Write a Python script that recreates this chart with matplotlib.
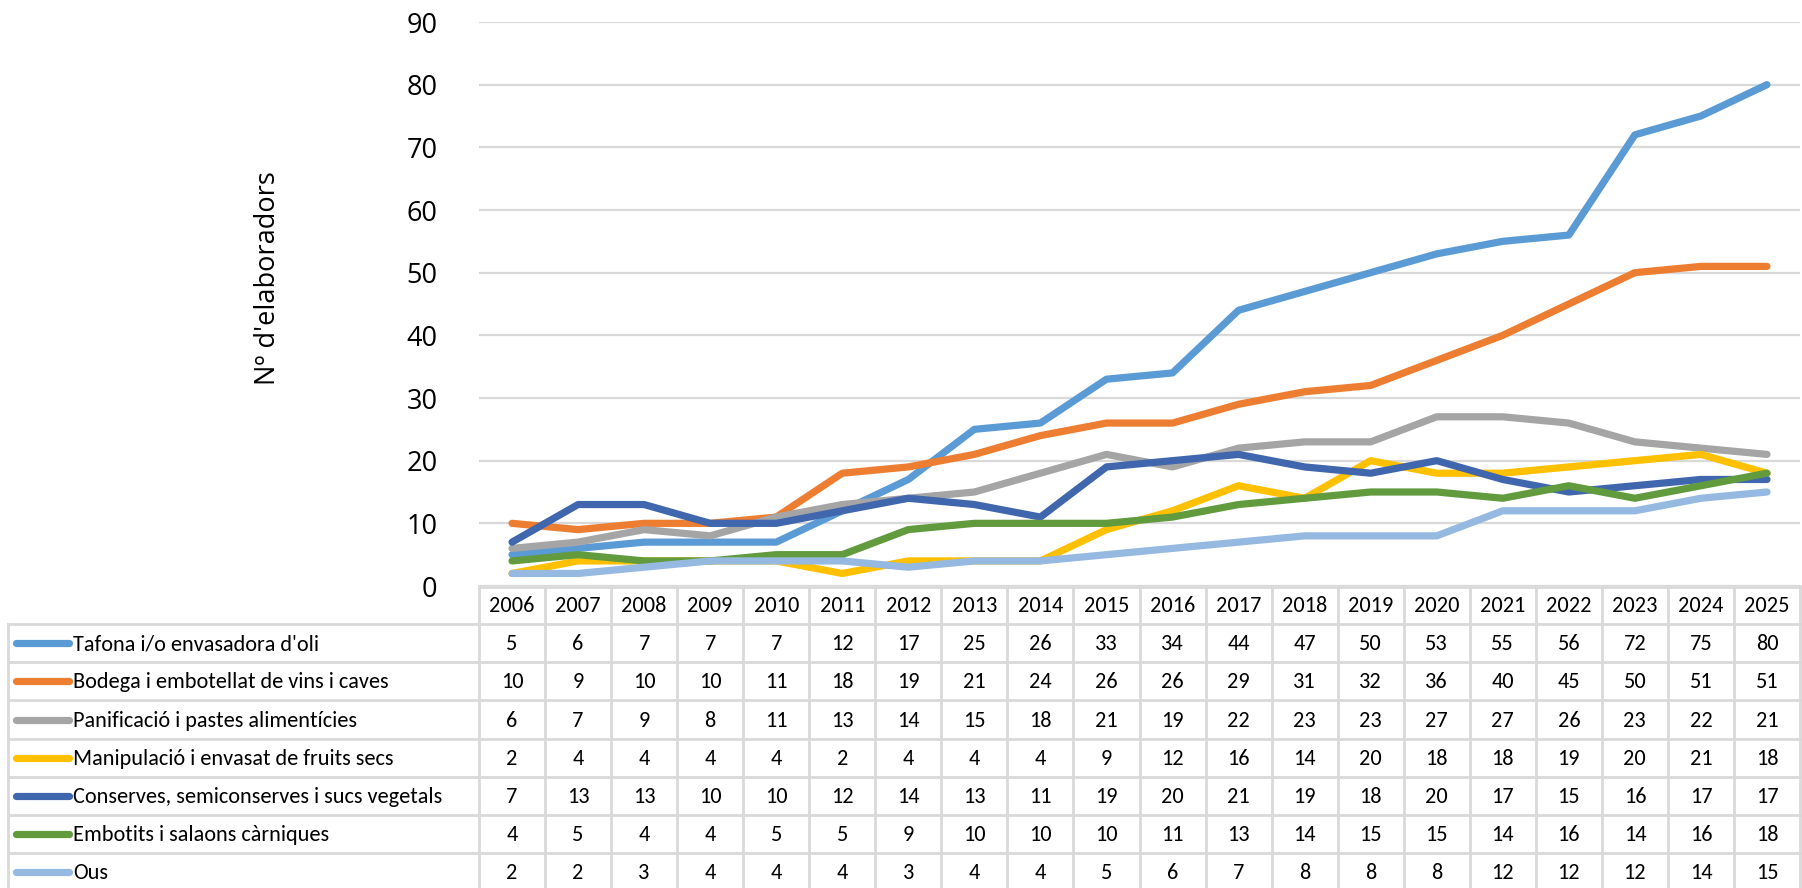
import matplotlib
matplotlib.use("Agg")
import matplotlib.pyplot as plt
import numpy as np

# productors per sector, 2006-2025
years = list(range(2006, 2026))
sectors = ["Tafona i/o envasadora d'oli",
           "Bodega i embotellat de vins i caves",
           "Panificació i pastes alimentícies",
           "Manipulació i envasat de fruits secs",
           "Conserves, semiconserves i sucs vegetals",
           "Embotits i salaons càrniques",
           "Ous"]

tafona = [5, 6, 7, 7, 7, 12, 17, 25, 26, 33, 34, 44, 47, 50, 53, 55, 56, 72, 75, 80]
bodega = [10, 9, 10, 10, 11, 18, 19, 21, 24, 26, 26, 29, 31, 32, 36, 40, 45, 50, 51, 51]
panificacio = [6, 7, 9, 8, 11, 13, 14, 15, 18, 21, 19, 22, 23, 23, 27, 27, 26, 23, 22, 21]
fruits_secs = [2, 4, 4, 4, 4, 2, 4, 4, 4, 9, 12, 16, 14, 20, 18, 18, 19, 20, 21, 18]
conserves = [7, 13, 13, 10, 10, 12, 14, 13, 11, 19, 20, 21, 19, 18, 20, 17, 15, 16, 17, 17]
embotits = [4, 5, 4, 4, 5, 5, 9, 10, 10, 10, 11, 13, 14, 15, 15, 14, 16, 14, 16, 18]
ous = [2, 2, 3, 4, 4, 4, 3, 4, 4, 5, 6, 7, 8, 8, 8, 12, 12, 12, 14, 15]

series = [tafona, bodega, panificacio, fruits_secs, conserves, embotits, ous]
colors = ["#5B9BD5", "#ED7D31", "#A5A5A5", "#FFC000", "#4066AE", "#619B3E", "#95B9E1"]

W, H = 1802, 888
GRID = "#D9D9D9"
TABLE_FONT = ["Carlito", "Liberation Sans Narrow", "DejaVu Sans"]
AXIS_FONT = ["Open Sans", "DejaVu Sans"]

fig = plt.figure(figsize=(W / 100, H / 100), dpi=100)

# layout in pixels
x0, x1 = 479, 1800          # data columns of the table / plot area
y_top, y_zero = 22, 586     # 90 and 0 gridlines
tab_left = 8
row_h = 38.2
header_bottom = 624

ax = fig.add_axes([x0 / W, 1 - y_zero / H, (x1 - x0) / W, (y_zero - y_top) / H])
xs = np.arange(len(years))
for vals, col in zip(series, colors):
    ax.plot(xs, vals, color=col, lw=5.2, solid_capstyle="round",
            solid_joinstyle="round", zorder=3)
ax.set_xlim(-0.5, len(years) - 0.5)
ax.set_ylim(0, 90)
ax.set_yticks(range(0, 91, 10))
ax.set_xticks([])
ax.yaxis.grid(True, color=GRID, lw=1.6)
ax.set_axisbelow(True)
for s in ax.spines.values():
    s.set_visible(False)
ax.tick_params(axis="y", length=0, pad=30, labelsize=19.5)
for lab in ax.get_yticklabels():
    lab.set_family(AXIS_FONT)
ax.set_ylabel("Nº d'elaboradors", fontsize=19.5, family=AXIS_FONT, va="center")
ax.yaxis.set_label_coords(-0.160, 0.546)

# data table under the plot, drawn in pixel coordinates
tab = fig.add_axes([0, 0, 1, 1 - y_zero / H])
tab.set_xlim(0, W)
tab.set_ylim(H, y_zero)
tab.axis("off")

col_w = (x1 - x0) / len(years)
n_rows = len(sectors)
bottom = header_bottom + row_h * n_rows
lw_tab = 2.0
fs_tab = 16

# header cells
tab.plot([x0, x1], [y_zero + 1, y_zero + 1], color=GRID, lw=lw_tab, clip_on=False)
for i, yr in enumerate(years):
    cx = x0 + col_w * (i + 0.5)
    tab.text(cx, (y_zero + header_bottom) / 2 + 1, str(yr), ha="center", va="center",
             fontsize=fs_tab, family=TABLE_FONT)
# vertical lines
for i in range(len(years) + 1):
    xv = x0 + col_w * i
    tab.plot([xv, xv], [y_zero, bottom], color=GRID, lw=lw_tab, clip_on=False)
tab.plot([tab_left, tab_left], [header_bottom, bottom], color=GRID, lw=lw_tab, clip_on=False)
# horizontal lines
for r in range(n_rows + 1):
    yh = header_bottom + row_h * r
    tab.plot([tab_left, x1], [yh, yh], color=GRID, lw=lw_tab, clip_on=False)

for r, (name, vals, col) in enumerate(zip(sectors, series, colors)):
    cy = header_bottom + row_h * (r + 0.5)
    tab.plot([16, 69], [cy, cy], color=col, lw=5.2, solid_capstyle="round", clip_on=False)
    tab.text(73, cy + 1, name, ha="left", va="center", fontsize=fs_tab, family=TABLE_FONT)
    for i, v in enumerate(vals):
        cx = x0 + col_w * (i + 0.5)
        tab.text(cx, cy + 1, str(v), ha="center", va="center", fontsize=fs_tab,
                 family=TABLE_FONT)

fig.savefig("out.png", dpi=100)
